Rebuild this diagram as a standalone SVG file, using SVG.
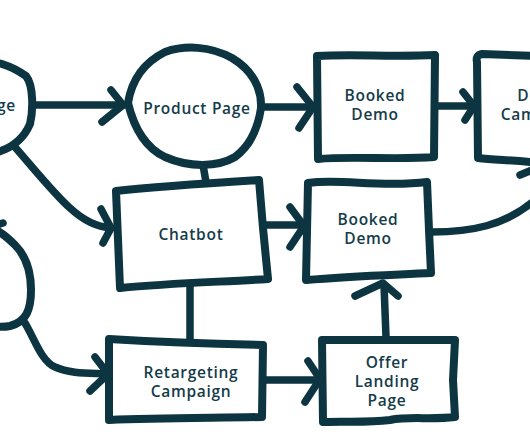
<svg xmlns="http://www.w3.org/2000/svg" width="530" height="442" viewBox="0 0 530 442">
<style>
.s{fill:none;stroke:#0c3441;stroke-width:7.5;stroke-linecap:round;stroke-linejoin:round}
.n{fill:#fff;stroke:#0c3441;stroke-width:8;stroke-linecap:round;stroke-linejoin:round}
.t{font-family:"Open Sans","Liberation Sans",sans-serif;font-weight:600;font-size:15.5px;fill:#143c49;text-anchor:middle;letter-spacing:0.7px}
</style>
<rect width="530" height="442" fill="#fff"/>
<g id="connectors">
  <path class="s" d="M33 105 L124 105"/>
  <path class="s" d="M111 90 L123 105 L102 122"/>
  <path class="s" d="M14 146 C35 170 55 195 70 208 C85 222 98 227 111 228"/>
  <path class="s" d="M101 209 L111 228 L103 243"/>
  <path class="s" d="M203 165 L206 182"/>
  <path class="s" d="M262 107 L313 107"/>
  <path class="s" d="M297 87 L313 107 L299 128"/>
  <path class="s" d="M436 106 L474 106"/>
  <path class="s" d="M463 92 L474 106 L465 120"/>
  <path class="s" d="M262 225 L304 225"/>
  <path class="s" d="M290 207 L304 226 L290 247"/>
  <path class="s" d="M432 232 C470 232 505 226 535 200"/>
  <path class="s" d="M520 175 L532 170"/>
  <path class="s" d="M190 285 L190 340"/>
  <path class="s" d="M25 323 C35 340 42 362 55 367 C70 374 90 373 108 374"/>
  <path class="s" d="M95 357 L108 374 L90 391"/>
  <path class="s" d="M263 380 L320 380"/>
  <path class="s" d="M308 361 L320 379 L305 402"/>
  <path class="s" d="M386 337 L384 285"/>
  <path class="s" d="M355 296 L383 283 L398 296"/>
  <path class="s" d="M0 224 L3 223"/>
</g>
<g id="node-landing-page">
  <path class="n" d="M-20 62 C-5 60 12 66 26 76 C34 86 33 112 30 124 C24 138 14 147 -2 152 C-15 154 -25 150 -30 145"/>
  <text class="t" x="16" y="111" style="text-anchor:end">Landing Page</text>
</g>
<g id="node-product-page">
  <path class="n" d="M128 103 C132 78 145 62 165 52 C185 45 210 46 232 58 C252 70 262 88 261 108 C258 128 250 146 235 157 C218 167 190 168 165 157 C146 148 134 128 128 103 Z"/>
  <text class="t" x="197" y="114">Product Page</text>
</g>
<g id="node-booked-demo-1">
  <path class="n" d="M317 56 C350 54 395 57 435 55 L434 157 C400 160 350 156 318 159 Z"/>
  <text class="t" x="375" y="101">Booked</text>
  <text class="t" x="375" y="120">Demo</text>
</g>
<g id="node-demo-campaign">
  <path class="n" d="M540 56 L482 54 C477 55 476 58 477 62 L478 158 C495 160 515 160 540 163"/>
  <text class="t" x="541" y="101">Demo</text>
  <text class="t" x="541" y="120">Campaign</text>
</g>
<g id="node-chatbot">
  <path class="n" d="M116 191 C160 186 210 183 259 180 L263 228 L268 279 C220 282 170 283 120 288 Z"/>
  <text class="t" x="191" y="240">Chatbot</text>
</g>
<g id="node-booked-demo-2">
  <path class="n" d="M308 183 C340 178 380 188 427 182 L429 230 L431 273 C390 275 350 276 306 280 Z"/>
  <text class="t" x="368" y="225">Booked</text>
  <text class="t" x="368" y="244">Demo</text>
</g>
<g id="node-left-lower">
  <path class="n" d="M-20 228 C-5 226 5 235 15 245 C28 258 31 275 31 290 C31 310 26 322 10 326 C0 328 -15 326 -25 322"/>
</g>
<g id="node-retargeting">
  <path class="n" d="M109 339 C160 342 215 344 263 345 L262 417 C215 418 160 418 109 420 Z"/>
  <text class="t" x="191" y="378">Retargeting</text>
  <text class="t" x="191" y="397">Campaign</text>
</g>
<g id="node-offer">
  <path class="n" d="M322 340 L455 340 L453 380 L455 417 C430 420 410 416 390 420 C365 423 345 421 323 422 Z"/>
  <text class="t" x="387" y="368">Offer</text>
  <text class="t" x="387" y="387">Landing</text>
  <text class="t" x="387" y="406">Page</text>
</g>
</svg>
